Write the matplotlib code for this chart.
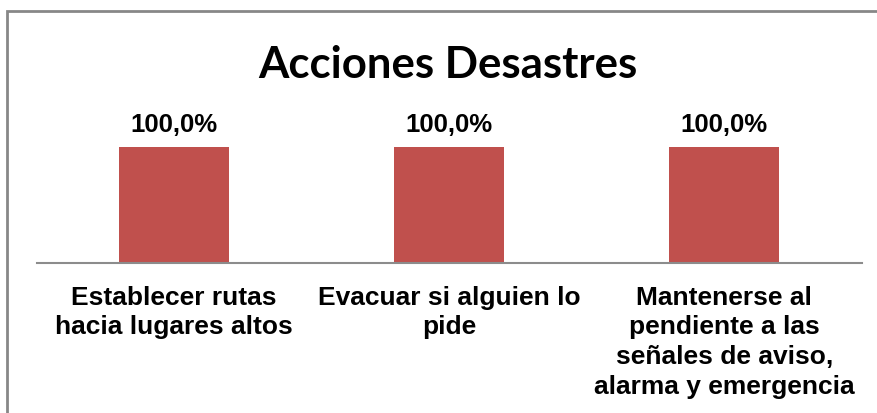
import matplotlib.pyplot as plt
from matplotlib.patches import Rectangle

categories = [
    "Establecer rutas\nhacia lugares altos",
    "Evacuar si alguien lo\npide",
    "Mantenerse al\npendiente a las\nseñales de aviso,\nalarma y emergencia",
]
values = [100.0, 100.0, 100.0]
labels = ["100,0%", "100,0%", "100,0%"]

W, H = 877, 414
fig = plt.figure(figsize=(W / 100, H / 100), dpi=100)

# outer chart border (runs off the right and bottom edge)
fig.patches.append(Rectangle((7 / W, -0.1), 1.2, (H - 12) / H + 0.1,
                             transform=fig.transFigure, fill=False,
                             edgecolor="#878787", linewidth=2))

ax = fig.add_axes([36.5 / W, 1 - 264 / H, (862 - 36.5) / W, (264 - 148) / H])
x = range(len(categories))
ax.bar(x, values, width=0.4, color="#C0504D")
ax.set_xlim(-0.5, len(categories) - 0.5)
ax.set_ylim(0, 100)

for s in ["top", "right", "left"]:
    ax.spines[s].set_visible(False)
ax.spines["bottom"].set_color("#8c8c8c")
ax.spines["bottom"].set_linewidth(1.5)
ax.set_yticks([])
ax.set_xticks([])

for i, (v, lab) in enumerate(zip(values, labels)):
    ax.annotate(lab, (i, v), xytext=(0, 8), textcoords="offset points",
                ha="center", va="bottom", fontsize=18.5, fontweight="bold",
                family="Liberation Sans")
    ax.annotate(categories[i], (i, 0), xytext=(0, -15.5), textcoords="offset points",
                ha="center", va="top", fontsize=19, fontweight="bold",
                family="Liberation Sans", linespacing=1.3)

fig.text(448 / W, 1 - 78 / H, "Acciones Desastres", ha="center", va="baseline",
         fontsize=31.5, fontweight="bold", family="Lato")

fig.savefig("out.png", dpi=100)
